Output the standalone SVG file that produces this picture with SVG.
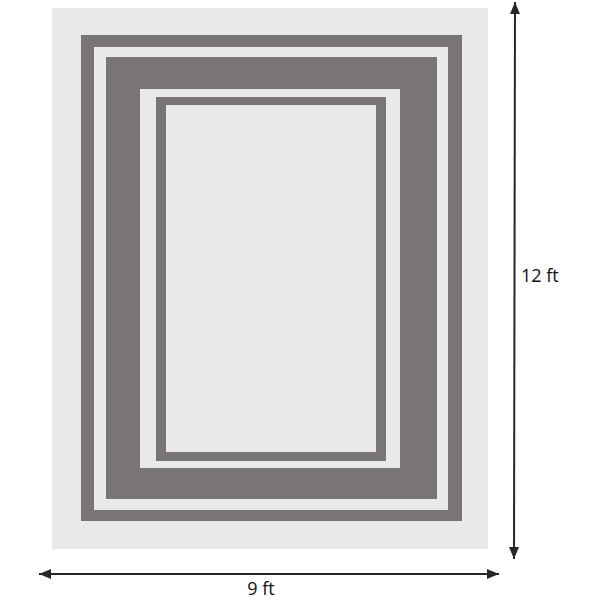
<svg xmlns="http://www.w3.org/2000/svg" width="600" height="600" viewBox="0 0 600 600">
<style>
.light{fill:#e9e9e9}
.dark{fill:#797475}
.dim{stroke:#2a2627;stroke-width:2;fill:none}
.lbl{font-family:"Open Sans","Noto Sans",sans-serif;font-size:18px;fill:#111}
</style>
<defs>
<marker id="ah" viewBox="0 0 12 10" refX="12" refY="5" markerWidth="12" markerHeight="10" markerUnits="userSpaceOnUse" orient="auto-start-reverse">
<path d="M0,0 L12,5 L0,10 Z" fill="#2a2627"/>
</marker>
</defs>
<g id="rug">
<rect class="light" x="52" y="8" width="436" height="541"/>
<rect class="dark" x="81" y="35" width="381" height="486"/>
<rect class="light" x="94" y="47" width="354" height="463"/>
<rect class="dark" x="106" y="57" width="331" height="442"/>
<rect class="light" x="140" y="89" width="260" height="379"/>
<rect class="dark" x="156" y="97" width="230" height="364"/>
<rect class="light" x="166" y="105" width="210" height="347"/>
</g>
<g id="connectors">
<line class="dim" x1="515" y1="2" x2="514" y2="559" marker-start="url(#ah)" marker-end="url(#ah)"/>
<line class="dim" x1="39" y1="574" x2="499" y2="574" marker-start="url(#ah)" marker-end="url(#ah)"/>
</g>
<g id="labels">
<text class="lbl" x="521" y="282">12 ft</text>
<text class="lbl" x="261" y="595" text-anchor="middle">9 ft</text>
</g>
</svg>
